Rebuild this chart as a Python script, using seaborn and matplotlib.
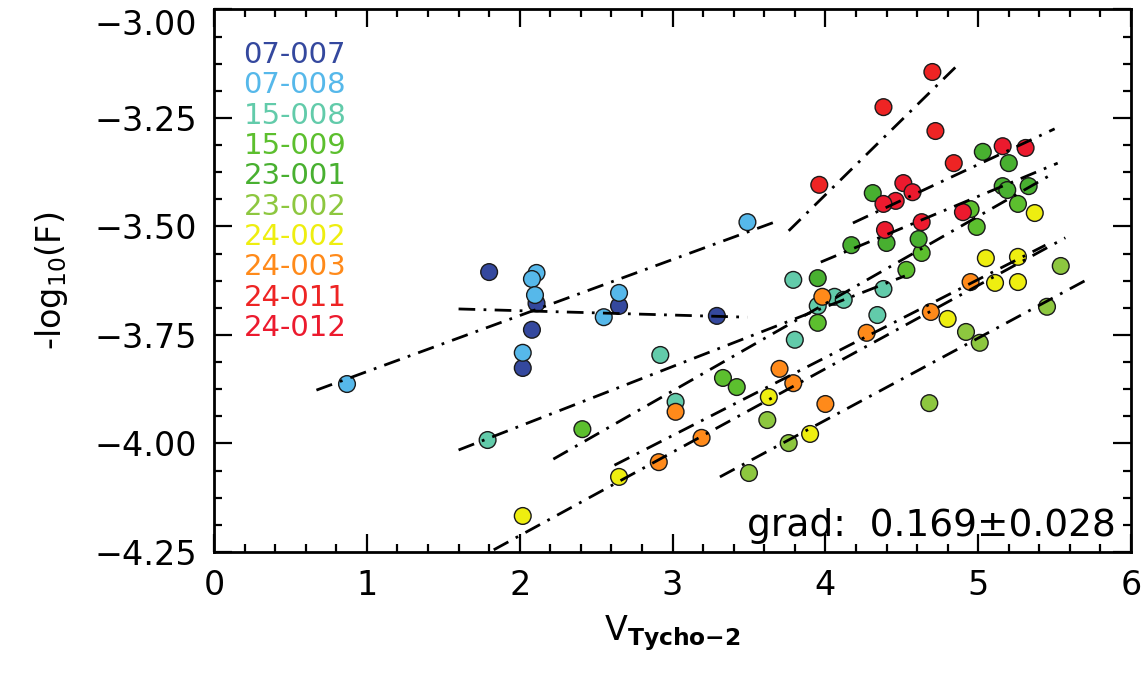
import matplotlib
matplotlib.use('Agg')
import pandas as pd
import matplotlib.pyplot as plt
import seaborn as sns
from matplotlib.ticker import MultipleLocator
from matplotlib.lines import Line2D
from matplotlib.transforms import ScaledTranslation

# Plate ids and their colours
plates = ['07-007', '07-008', '15-008', '15-009', '23-001',
          '23-002', '24-002', '24-003', '24-011', '24-012']
colors = ['#34489E', '#56B8EA', '#62CBAA', '#5CBF2E', '#48B030',
          '#8DC73F', '#EEEE10', '#FF8A1A', '#EE2424', '#EC1A2E']

# V(Tycho-2) and -log10(F) per plate
v_07_007 = [1.80, 2.11, 2.08, 2.02, 2.65, 3.29]
f_07_007 = [-3.605, -3.677, -3.738, -3.826, -3.683, -3.706]

v_07_008 = [0.87, 2.11, 2.08, 2.10, 2.55, 2.65, 2.02, 3.49]
f_07_008 = [-3.863, -3.607, -3.621, -3.658, -3.709, -3.653, -3.791, -3.490]

v_15_008 = [1.79, 2.92, 3.02, 3.79, 3.95, 4.06, 4.12, 4.38, 4.34, 3.80]
f_15_008 = [-3.992, -3.796, -3.904, -3.623, -3.683, -3.662, -3.669, -3.644, -3.704, -3.761]

v_15_009 = [2.41, 3.33, 3.42, 3.95, 4.53, 4.63, 4.95, 4.99, 5.26]
f_15_009 = [-3.967, -3.849, -3.870, -3.722, -3.600, -3.561, -3.460, -3.501, -3.448]

v_23_001 = [3.95, 4.17, 4.31, 4.40, 4.61, 5.03, 5.16, 5.19, 5.20, 5.33]
f_23_001 = [-3.619, -3.543, -3.423, -3.538, -3.529, -3.328, -3.407, -3.416, -3.354, -3.407]

v_23_002 = [3.50, 3.62, 3.76, 4.68, 4.92, 5.01, 5.45, 5.54]
f_23_002 = [-4.068, -3.946, -3.999, -3.907, -3.743, -3.768, -3.685, -3.591]

v_24_002 = [2.02, 2.65, 3.63, 3.90, 4.80, 5.05, 5.26, 5.11, 5.26, 5.37]
f_24_002 = [-4.167, -4.077, -3.893, -3.978, -3.713, -3.573, -3.570, -3.630, -3.628, -3.469]

v_24_003 = [2.91, 3.02, 3.19, 3.70, 3.79, 4.00, 3.98, 4.27, 4.69, 4.95]
f_24_003 = [-4.043, -3.927, -3.987, -3.828, -3.861, -3.909, -3.662, -3.745, -3.697, -3.628]

v_24_011 = [3.96, 4.38, 4.70, 4.72, 4.84]
f_24_011 = [-3.404, -3.225, -3.144, -3.280, -3.354]

v_24_012 = [5.16, 5.31, 4.51, 4.57, 4.46, 4.38, 4.63, 4.39, 4.90]
f_24_012 = [-3.315, -3.319, -3.400, -3.421, -3.441, -3.448, -3.490, -3.508, -3.467]

# Fitted line end points per plate (same order as plates)
fit_x0 = [1.60, 0.67, 1.60, 2.22, 3.97, 3.31, 1.83, 2.62, 3.76, 4.18]
fit_x1 = [3.49, 3.69, 4.52, 5.46, 5.52, 5.73, 5.57, 5.44, 4.86, 5.50]
fit_y0 = [-3.690, -3.877, -4.015, -4.036, -3.582, -4.077, -4.245, -4.050, -3.510, -3.492]
fit_y1 = [-3.709, -3.487, -3.614, -3.384, -3.354, -3.619, -3.526, -3.543, -3.130, -3.275]

all_v = [v_07_007, v_07_008, v_15_008, v_15_009, v_23_001,
         v_23_002, v_24_002, v_24_003, v_24_011, v_24_012]
all_f = [f_07_007, f_07_008, f_15_008, f_15_009, f_23_001,
         f_23_002, f_24_002, f_24_003, f_24_011, f_24_012]

frames = [pd.DataFrame({'V': v, 'F': f, 'plate': p}) for p, v, f in zip(plates, all_v, all_f)]
df = pd.concat(frames, ignore_index=True)

sns.set_style('ticks')
plt.rcParams['font.family'] = ['DejaVu Sans']
plt.rcParams['mathtext.fontset'] = 'dejavusans'
plt.rcParams['text.color'] = 'black'
plt.rcParams['axes.labelcolor'] = 'black'
plt.rcParams['xtick.color'] = 'black'
plt.rcParams['ytick.color'] = 'black'

fig = plt.figure(figsize=(11.47, 6.73), dpi=100)
ax = fig.add_axes([0.1866, 0.1798, 0.7995, 0.8061])

sns.scatterplot(data=df, x='V', y='F', hue='plate', hue_order=plates,
                palette=dict(zip(plates, colors)), s=145, edgecolor='#1a1a1a',
                linewidth=1.0, legend=False, ax=ax, zorder=2)

# dash-dot fit lines drawn on top of the points
for x0, x1, y0, y1 in zip(fit_x0, fit_x1, fit_y0, fit_y1):
    ax.plot([x0, x1], [y0, y1], color='black', lw=2.0, ls=(0, (6, 3, 1, 3)), zorder=3)

ax.set_xlim(0, 6)
ax.set_ylim(-4.25, -3.0)
ax.set_xticks(range(7))
ax.set_yticks([-4.25, -4.0, -3.75, -3.5, -3.25, -3.0])
ax.xaxis.set_minor_locator(MultipleLocator(0.2))
ax.yaxis.set_minor_locator(MultipleLocator(0.0625))
ax.tick_params(which='both', direction='in', top=True, right=True, width=1.6, color='black')
ax.tick_params(which='major', length=13, labelsize=24, pad=12)
ax.tick_params(which='minor', length=6)
for sp in ax.spines.values():
    sp.set_linewidth(2.0)
    sp.set_color('black')

# keep the top y label inside the picture
top_label = ax.yaxis.get_major_ticks()[-1].label1
top_label.set_transform(top_label.get_transform() + ScaledTranslation(0, -9 / 72, fig.dpi_scale_trans))

ax.set_xlabel(r'V$_{\mathbf{Tycho{-}2}}$', fontsize=24, labelpad=8)
ax.set_ylabel(r'-log$_{10}$(F)', fontsize=24, labelpad=18)

handles = [Line2D([], [], linestyle='none') for _ in plates]
ax.legend(handles, plates, loc='upper left', bbox_to_anchor=(0.032, 0.942),
          frameon=False, handlelength=0, handletextpad=0, labelspacing=0.08,
          fontsize=21, labelcolor=colors, borderaxespad=0, borderpad=0)

ax.text(0.983, 0.03, 'grad:  0.169\u00b10.028', transform=ax.transAxes,
        ha='right', va='baseline', fontsize=27)

fig.savefig('out.png', dpi=100)
plt.close()
